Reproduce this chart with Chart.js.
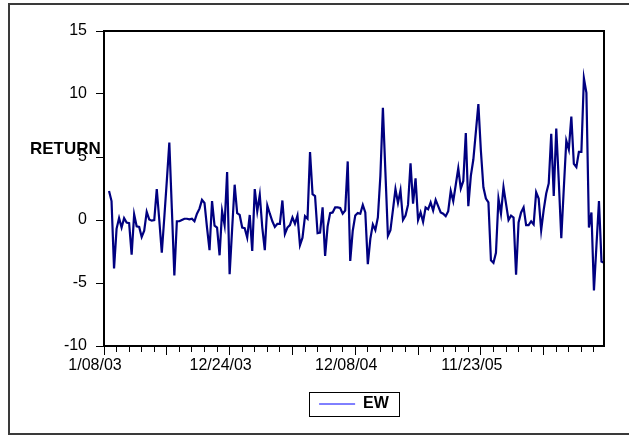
<!DOCTYPE html>
<html>
<head>
<meta charset="utf-8">
<script src="https://cdn.jsdelivr.net/npm/chart.js@4.4.1/dist/chart.umd.min.js"></script>
<style>
    html, body { margin: 0; padding: 0; background: #fff; overflow: hidden; }
    #wrap { position: relative; width: 629px; height: 435px; }
    #frame { position: absolute; left: 8px; top: 3px; width: 660px; height: 432px; border: 2px solid #3a3a3a; box-sizing: border-box; }
    #chart { position: absolute; left: 0; top: 0; }
</style>
</head>
<body>
<div id="wrap">
    <div id="frame"></div>
    <canvas id="chart" width="629" height="435"></canvas>
</div>
<script>
// weekly EW returns, first plotted week is obs 2 (obs 0 = 1/08/03)
const firstObs = 2;
const lastObs = 199;
const ewReturns = [
    2.3, 1.5, -3.85, -0.7, 0.15, -0.6, 0.15, -0.2, -0.25, -2.75,
    0.45, -0.5, -0.55, -1.35, -0.85, 0.65, 0.05, -0.05, 0.0, 2.45,
    0.0, -2.6, 0.2, 3.1, 6.15, 0.9, -4.4, -0.1, -0.1, 0.0,
    0.1, 0.1, 0.05, 0.1, -0.1, 0.5, 0.9, 1.6, 1.35, -0.6,
    -2.4, 1.5, -0.45, -0.6, -2.8, 0.7, -0.4, 3.8, -4.3, -0.7,
    2.8, 0.55, 0.4, -0.6, -0.65, -1.4, 0.4, -2.45, 2.45, 0.7,
    2.0, -0.6, -2.4, 1.15, 0.5, -0.1, -0.55, -0.3, -0.3, 1.55,
    -1.1, -0.6, -0.4, 0.2, -0.3, 0.35, -2.0, -1.4, 0.3, 0.1,
    5.4, 2.05, 1.9, -1.05, -1.0, 1.0, -2.85, -0.5, 0.55, 0.6,
    1.0, 1.0, 0.95, 0.5, 0.75, 4.65, -3.25, -0.85, 0.35, 0.55,
    0.5, 1.2, 0.6, -3.5, -1.5, -0.35, -0.8, 0.2, 3.5, 8.9,
    3.8, -1.25, -0.8, 0.8, 2.45, 1.35, 2.35, 0.0, 0.35, 1.2,
    4.5, 1.3, 3.3, 0.0, 0.6, -0.15, 1.0, 0.85, 1.4, 0.75,
    1.6, 1.1, 0.6, 0.5, 0.3, 0.7, 2.3, 1.5, 2.8, 4.1,
    2.5, 3.1, 6.9, 1.1, 3.5, 4.8, 7.0, 9.2, 5.5, 2.6,
    1.7, 1.4, -3.2, -3.4, -2.6, 1.7, 0.5, 2.6, 1.3, 0.0,
    0.35, 0.2, -4.35, -0.2, 0.6, 1.0, -0.4, -0.4, -0.1, -0.35,
    2.2, 1.7, -0.8, 0.8, 2.1, 2.9, 6.85, 1.9, 7.25, 3.1,
    -1.45, 2.5, 6.3, 5.6, 8.2, 4.45, 4.2, 5.4, 5.4, 11.25,
    10.1, -0.6, 0.6, -5.6, -2.0, 1.5, -3.3, -3.4
];
const tickLabels = ['1/08/03', '12/24/03', '12/08/04', '11/23/05'];
const labelStep = 50;
const majorStep = 25;
const minorStep = 5;
const yMin = -10;
const yMax = 15;
const yStep = 5;

Chart.defaults.font.family = '"Liberation Sans", Arial, sans-serif';
Chart.defaults.font.size = 16;
Chart.defaults.color = '#000';

const boxPlugin = {
    id: 'boxPlugin',
    afterDraw(chart) {
        const ctx = chart.ctx;
        const area = chart.chartArea;
        ctx.save();
        ctx.strokeStyle = '#000';
        ctx.lineWidth = 2;
        ctx.strokeRect(area.left, area.top, area.right - area.left, area.bottom - area.top);

        // legend frame
        const hit = chart.legend.legendHitBoxes[0];
        if (hit) {
            const cy = hit.top + hit.height / 2;
            ctx.lineWidth = 1;
            ctx.strokeRect(Math.round(hit.left - 10) + 0.5, Math.round(cy - 12) + 0.5, Math.round(hit.width + 20), 24);
        }

        // series name on the left
        ctx.font = 'bold 17px "Liberation Sans", Arial, sans-serif';
        ctx.fillStyle = '#000';
        ctx.textBaseline = 'middle';
        ctx.textAlign = 'left';
        ctx.fillText('RETURN', area.left - 74, area.top + 118);
        ctx.restore();
    }
};

const points = ewReturns.map((v, k) => ({ x: firstObs + k, y: v }));

new Chart(document.getElementById('chart'), {
    type: 'line',
    data: {
        datasets: [{
            label: 'EW',
            data: points,
            borderColor: '#000080',
            backgroundColor: '#000080',
            borderWidth: 2.2,
            pointRadius: 0,
            tension: 0,
            fill: false
        }]
    },
    options: {
        responsive: false,
        animation: false,
        layout: { padding: { left: 0, right: 25, top: 31, bottom: 13 } },
        scales: {
            x: {
                type: 'linear',
                min: 0,
                max: lastObs,
                grid: {
                    drawOnChartArea: false,
                    tickLength: 9,
                    tickColor: '#000',
                    tickWidth: 1,
                    tickBorderDash: ctx => (ctx.tick && ctx.tick.value % majorStep === 0) ? [] : [5, 20]
                },
                border: { color: '#000', width: 2 },
                ticks: {
                    stepSize: minorStep,
                    includeBounds: false,
                    autoSkip: false,
                    maxRotation: 0,
                    padding: 1,
                    labelOffset: -9,
                    callback: v => v % labelStep === 0 ? tickLabels[v / labelStep] : ''
                },
                afterFit: scale => { scale.height = 40; }
            },
            y: {
                min: yMin,
                max: yMax,
                grid: { drawOnChartArea: false, tickLength: 8, tickColor: '#000', tickWidth: 1 },
                border: { color: '#000', width: 2 },
                ticks: { stepSize: yStep, padding: 9 },
                afterFit: scale => { scale.width = 104; }
            }
        },
        plugins: {
            tooltip: { enabled: false },
            legend: {
                position: 'bottom',
                fullSize: false,
                labels: {
                    usePointStyle: true,
                    pointStyleWidth: 36,
                    padding: 10,
                    font: { size: 16, weight: 'bold' },
                    generateLabels: chart => Chart.defaults.plugins.legend.labels.generateLabels(chart).map(item => ({
                        ...item,
                        pointStyle: 'line',
                        strokeStyle: '#0000ff',
                        lineWidth: 1
                    }))
                }
            }
        }
    },
    plugins: [boxPlugin]
});
</script>
</body>
</html>
